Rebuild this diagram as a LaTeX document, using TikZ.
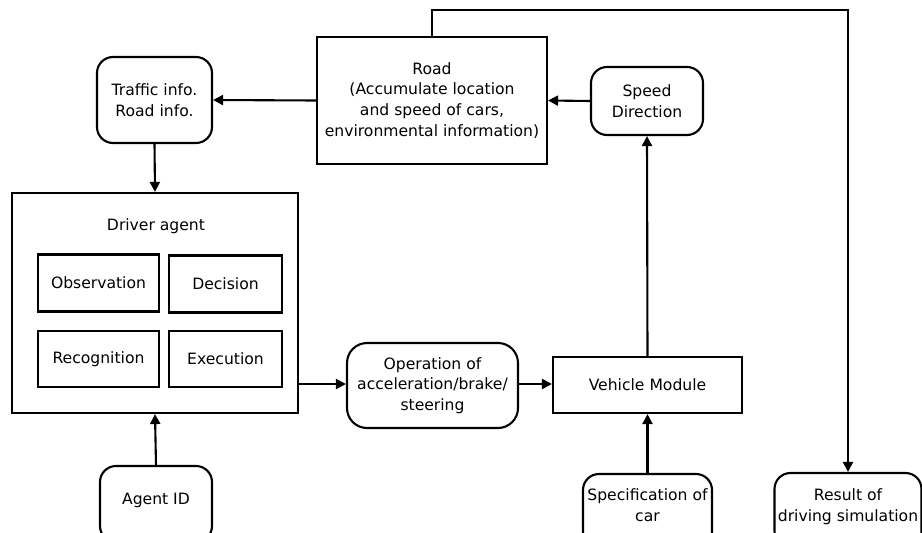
\documentclass[tikz,border=0pt]{standalone}
\usepackage{fontspec}
\setmainfont{DejaVu Sans}
\usetikzlibrary{arrows.meta}
\begin{document}
\begin{tikzpicture}[x=1pt,y=-1pt,
  every node/.style={font=\fontsize{15.6}{20.8}\selectfont, align=center, inner sep=0pt, line width=2.1pt},
  sq/.style={draw, rectangle},
  rnd/.style={draw, rectangle, rounded corners=16pt},
  arr/.style={line width=2.1pt, -{Triangle[length=10pt,width=10pt]}}
]
\useasboundingbox (0,0) rectangle (922,533);
\node[sq, minimum width=230pt, minimum height=127pt] (road) at (432,100.5) {Road\\(Accumulate location\\and speed of cars,\\environmental information)};
\node[rnd, minimum width=115pt, minimum height=86pt] (traffic) at (154.5,100) {Traffic info.\\Road info.};
\node[rnd, minimum width=112pt, minimum height=68pt] (speed) at (647,101) {Speed\\Direction};
\node[sq, minimum width=286pt, minimum height=220pt] (driver) at (155,303) {};
\node (dtitle) at (156,226) {Driver agent};
\node[sq, minimum width=121pt, minimum height=57pt] (obs) at (98.5,283) {Observation};
\node[sq, minimum width=113pt, minimum height=57pt] (dec) at (225.5,284) {Decision};
\node[sq, minimum width=121pt, minimum height=56pt] (rec) at (98.5,359) {Recognition};
\node[sq, minimum width=113pt, minimum height=56pt] (exe) at (225.5,359) {Execution};
\node[rnd, rounded corners=20pt, minimum width=171pt, minimum height=85pt] (op) at (432.5,385.5) {Operation of\\acceleration/brake/\\steering};
\node[sq, minimum width=189pt, minimum height=56pt] (veh) at (647.5,385) {Vehicle Module};
\node[rnd, minimum width=129pt, minimum height=74pt] (spec) at (647.5,511) {};
\node (spectext) at (647.5,505) {Specification of\\car};
\node[rnd, minimum width=147pt, minimum height=74pt] (result) at (848,510) {};
\node (resulttext) at (848,507) {Result of\\driving simulation};
\node[rnd, minimum width=112pt, minimum height=76pt] (agent) at (156,504) {};
\node (agenttext) at (156,500) {Agent ID};

\draw[arr] (road.west) -- (traffic.east);
\draw[arr] (speed.west) -- (road.east);
\draw[arr] (traffic.south) -- (driver.north);
\draw[arr] (veh.north) -- (speed.south);
\draw[arr] (driver.east |- 0,384) -- (op.west |- 0,384);
\draw[arr] (op.east |- 0,384) -- (veh.west |- 0,384);
\draw[arr] (spec.north) -- (veh.south);
\draw[arr] (agent.north) -- (driver.south);
\draw[arr] (road.north) -- ++(0,-26) -| (result.north);
\end{tikzpicture}
\end{document}
